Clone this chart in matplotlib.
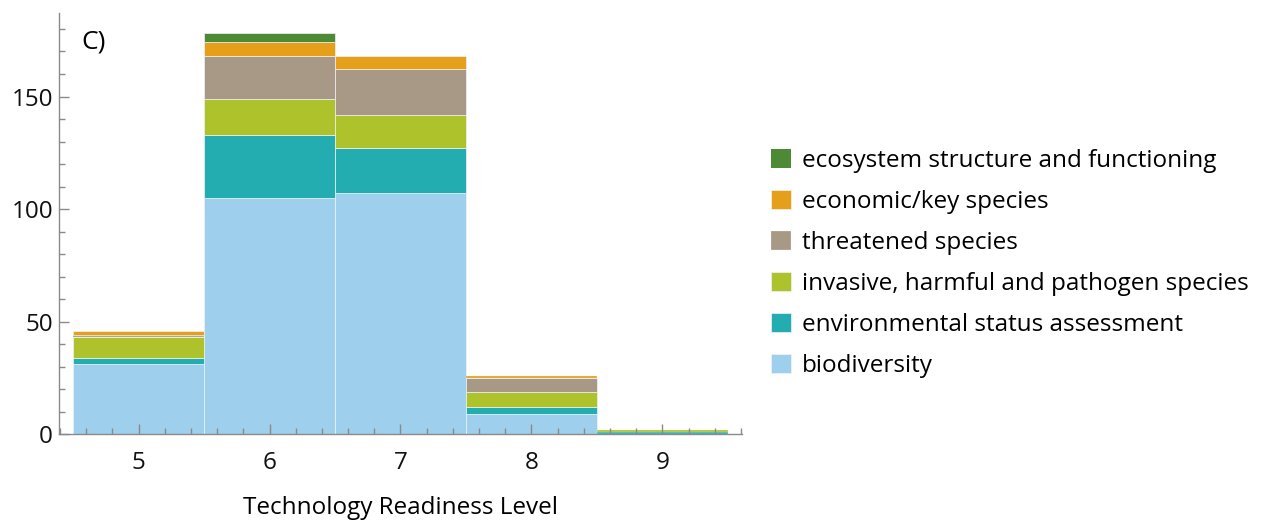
import numpy as np
import matplotlib.pyplot as plt
from matplotlib.ticker import MultipleLocator

plt.rcParams['font.family'] = ['Open Sans', 'DejaVu Sans']

# readiness levels and stacked counts per category
trl = [5, 6, 7, 8, 9]
biodiversity = [31, 105, 107, 9, 0]
env_status = [3, 28, 20, 3, 1]
invasive = [9, 16, 15, 7, 1]
threatened = [1, 19, 20, 6, 0]
economic = [2, 6, 6, 1, 0]
ecosystem = [0, 4, 0, 0, 0]

series = [
    ("biodiversity", biodiversity, "#9ecfec"),
    ("environmental status assessment", env_status, "#23adb0"),
    ("invasive, harmful and pathogen species", invasive, "#adc22b"),
    ("threatened species", threatened, "#a89886"),
    ("economic/key species", economic, "#e59f18"),
    ("ecosystem structure and functioning", ecosystem, "#4e8a36"),
]

fig = plt.figure(figsize=(12.65, 5.21), dpi=100)
ax = fig.add_axes([0.0469, 0.1664, 0.5394, 0.8096])

bottom = np.zeros(len(trl))
handles = []
for name, vals, col in series:
    vals = np.array(vals, dtype=float)
    # no outline on empty segments, a lighter one on very thin segments
    edges = ["#f0f4f6" if v > 0 else "none" for v in vals]
    widths = [0.5 if v > 1 else 0.2 for v in vals]
    b = ax.bar(trl, vals, width=1.0, bottom=bottom, color=col,
               edgecolor=edges, linewidth=widths, label=name)
    handles.append(b)
    bottom += vals

ax.set_xlim(4.395, 9.605)
ax.set_ylim(0, 187.3)
ax.set_xticks(trl)
ax.xaxis.set_minor_locator(MultipleLocator(0.2))
ax.yaxis.set_major_locator(MultipleLocator(50))
ax.yaxis.set_minor_locator(MultipleLocator(10))

for s in ["top", "right"]:
    ax.spines[s].set_visible(False)
for s in ["left", "bottom"]:
    ax.spines[s].set_color("#8a8a8a")
    ax.spines[s].set_linewidth(1.0)

ax.tick_params(axis="both", which="both", direction="in", color="#8a8a8a",
               labelsize=17.5, labelcolor="#111111")
ax.tick_params(axis="both", which="major", length=7, width=1)
ax.tick_params(axis="both", which="minor", length=4, width=1)
ax.tick_params(axis="x", which="major", pad=12)
ax.tick_params(axis="y", which="major", pad=4.5)

ax.set_xlabel("Technology Readiness Level", fontsize=17.5, labelpad=15)
ax.text(0.033, 0.96, "C)", transform=ax.transAxes, fontsize=19,
        va="top", ha="left")

leg = fig.legend(handles[::-1], [s[0] for s in series[::-1]],
                 loc="center left", bbox_to_anchor=(0.5925, 0.494),
                 frameon=False, fontsize=17.5, handlelength=0.8,
                 handleheight=0.8, handletextpad=0.45, labelspacing=0.7)

fig.savefig("out.png", dpi=100)
